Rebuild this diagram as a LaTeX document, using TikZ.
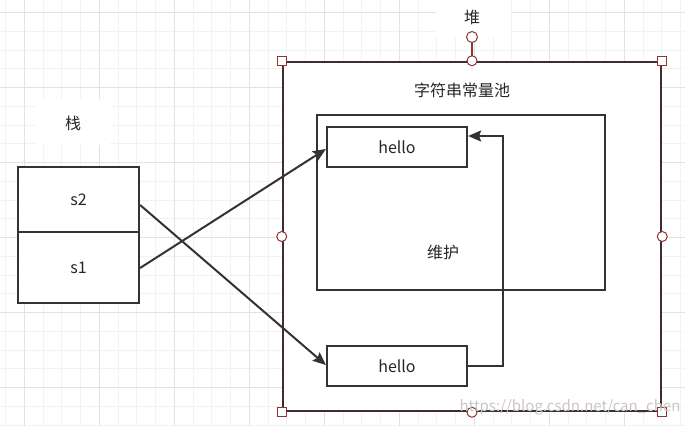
\documentclass[tikz,border=0pt]{standalone}
\usepackage{fontspec}
\setmainfont{Noto Sans CJK SC}
\usetikzlibrary{arrows.meta,calc}
\definecolor{boxline}{HTML}{333333}
\definecolor{heapline}{HTML}{3F2C2C}
\definecolor{handle}{HTML}{8E3434}
\definecolor{gridminor}{HTML}{F2F2F2}
\definecolor{gridmajor}{HTML}{E2E2E2}
\tikzset{
  box/.style={draw=boxline, line width=2.2pt, fill=white, rectangle, inner sep=0pt},
  lbl/.style={font=\fontsize{16}{19}\selectfont, text=black!85, inner sep=0pt},
  conn/.style={draw=boxline, line width=2pt, -{Stealth[length=13pt,width=11pt,inset=2pt]}},
  sqhandle/.style={draw=handle, line width=1pt, fill=white, rectangle, minimum size=9pt, inner sep=0pt},
  rdhandle/.style={draw=handle, line width=1pt, fill=white, circle, minimum size=10pt, inner sep=0pt},
}
\begin{document}
\begin{tikzpicture}[x=1pt,y=-1pt]
\useasboundingbox (0,0) rectangle (685,426);
\fill[white] (0,0) rectangle (685,426);
% grid
\foreach \k in {0,...,36} \draw[gridminor, line width=1pt] ({5.5+18.75*\k},0) -- ({5.5+18.75*\k},426);
\foreach \k in {0,...,22} \draw[gridminor, line width=1pt] (0,{12.5+18.75*\k}) -- (685,{12.5+18.75*\k});
\foreach \k in {0,...,8} \draw[gridmajor, line width=1pt] ({24.25+75*\k},0) -- ({24.25+75*\k},426);
\foreach \k in {0,...,5} \draw[gridmajor, line width=1pt] (0,{12.5+75*\k}) -- (685,{12.5+75*\k});
% label patches
\fill[white] (436,0) rectangle (511,37);
\fill[white] (36,99) rectangle (110,145);
\node[lbl] (heaplbl) at (472,17) {堆};
\node[lbl] (stacklbl) at (73,123) {栈};
% heap
\node[draw=heapline, line width=2.5pt, fill=white, rectangle, minimum width=378pt, minimum height=349pt, inner sep=0pt] (heap) at (472,236.5) {};
\node[lbl] (pooltitle) at (462,90) {字符串常量池};
\node[box, minimum width=288pt, minimum height=175pt] (pool) at (461,202.5) {};
\node[lbl] (maint) at (443,252) {维护};
\node[box, minimum width=140pt, minimum height=40pt, lbl] (hello1) at (397,147) {hello};
\node[box, minimum width=140pt, minimum height=40pt, lbl] (hello2) at (397,366) {hello};
% stack
\node[box, minimum width=121pt, minimum height=65pt, lbl] (s2) at (78.5,199.5) {s2};
\node[box, minimum width=121pt, minimum height=71pt, lbl] (s1) at (78.5,267.5) {s1};
% connectors
\draw[conn] ($(s1.east)+(0,0.5)$) -- ($(hello1.west)+(0,2)$);
\draw[conn] ($(s2.east)+(0,5.5)$) -- ($(hello2.west)+(0,-1)$);
\coordinate (bendlow) at (503,366);
\coordinate (bendhigh) at (503,136);
\draw[conn] (hello2.east) -- (bendlow) -- (bendhigh) -- ($(hello1.east)+(0,-11)$);
% selection handles
\draw[handle, line width=1.2pt] (472,42) -- (heap.north);
\node[rdhandle, minimum size=11pt] (rot) at (472,37) {};
\node[sqhandle] (hnw) at (heap.north west) {};
\node[sqhandle] (hne) at (heap.north east) {};
\node[sqhandle] (hsw) at (heap.south west) {};
\node[sqhandle] (hse) at (heap.south east) {};
\node[rdhandle] (hn) at (heap.north) {};
\node[rdhandle] (hs) at (heap.south) {};
\node[rdhandle] (hw) at (heap.west) {};
\node[rdhandle] (he) at (heap.east) {};
% watermark
\node[font=\fontsize{15}{18}\selectfont, text=black!22, inner sep=0pt] (wm) at (570,407) {https://blog.csdn.net/can\_chen};
\end{tikzpicture}
\end{document}
